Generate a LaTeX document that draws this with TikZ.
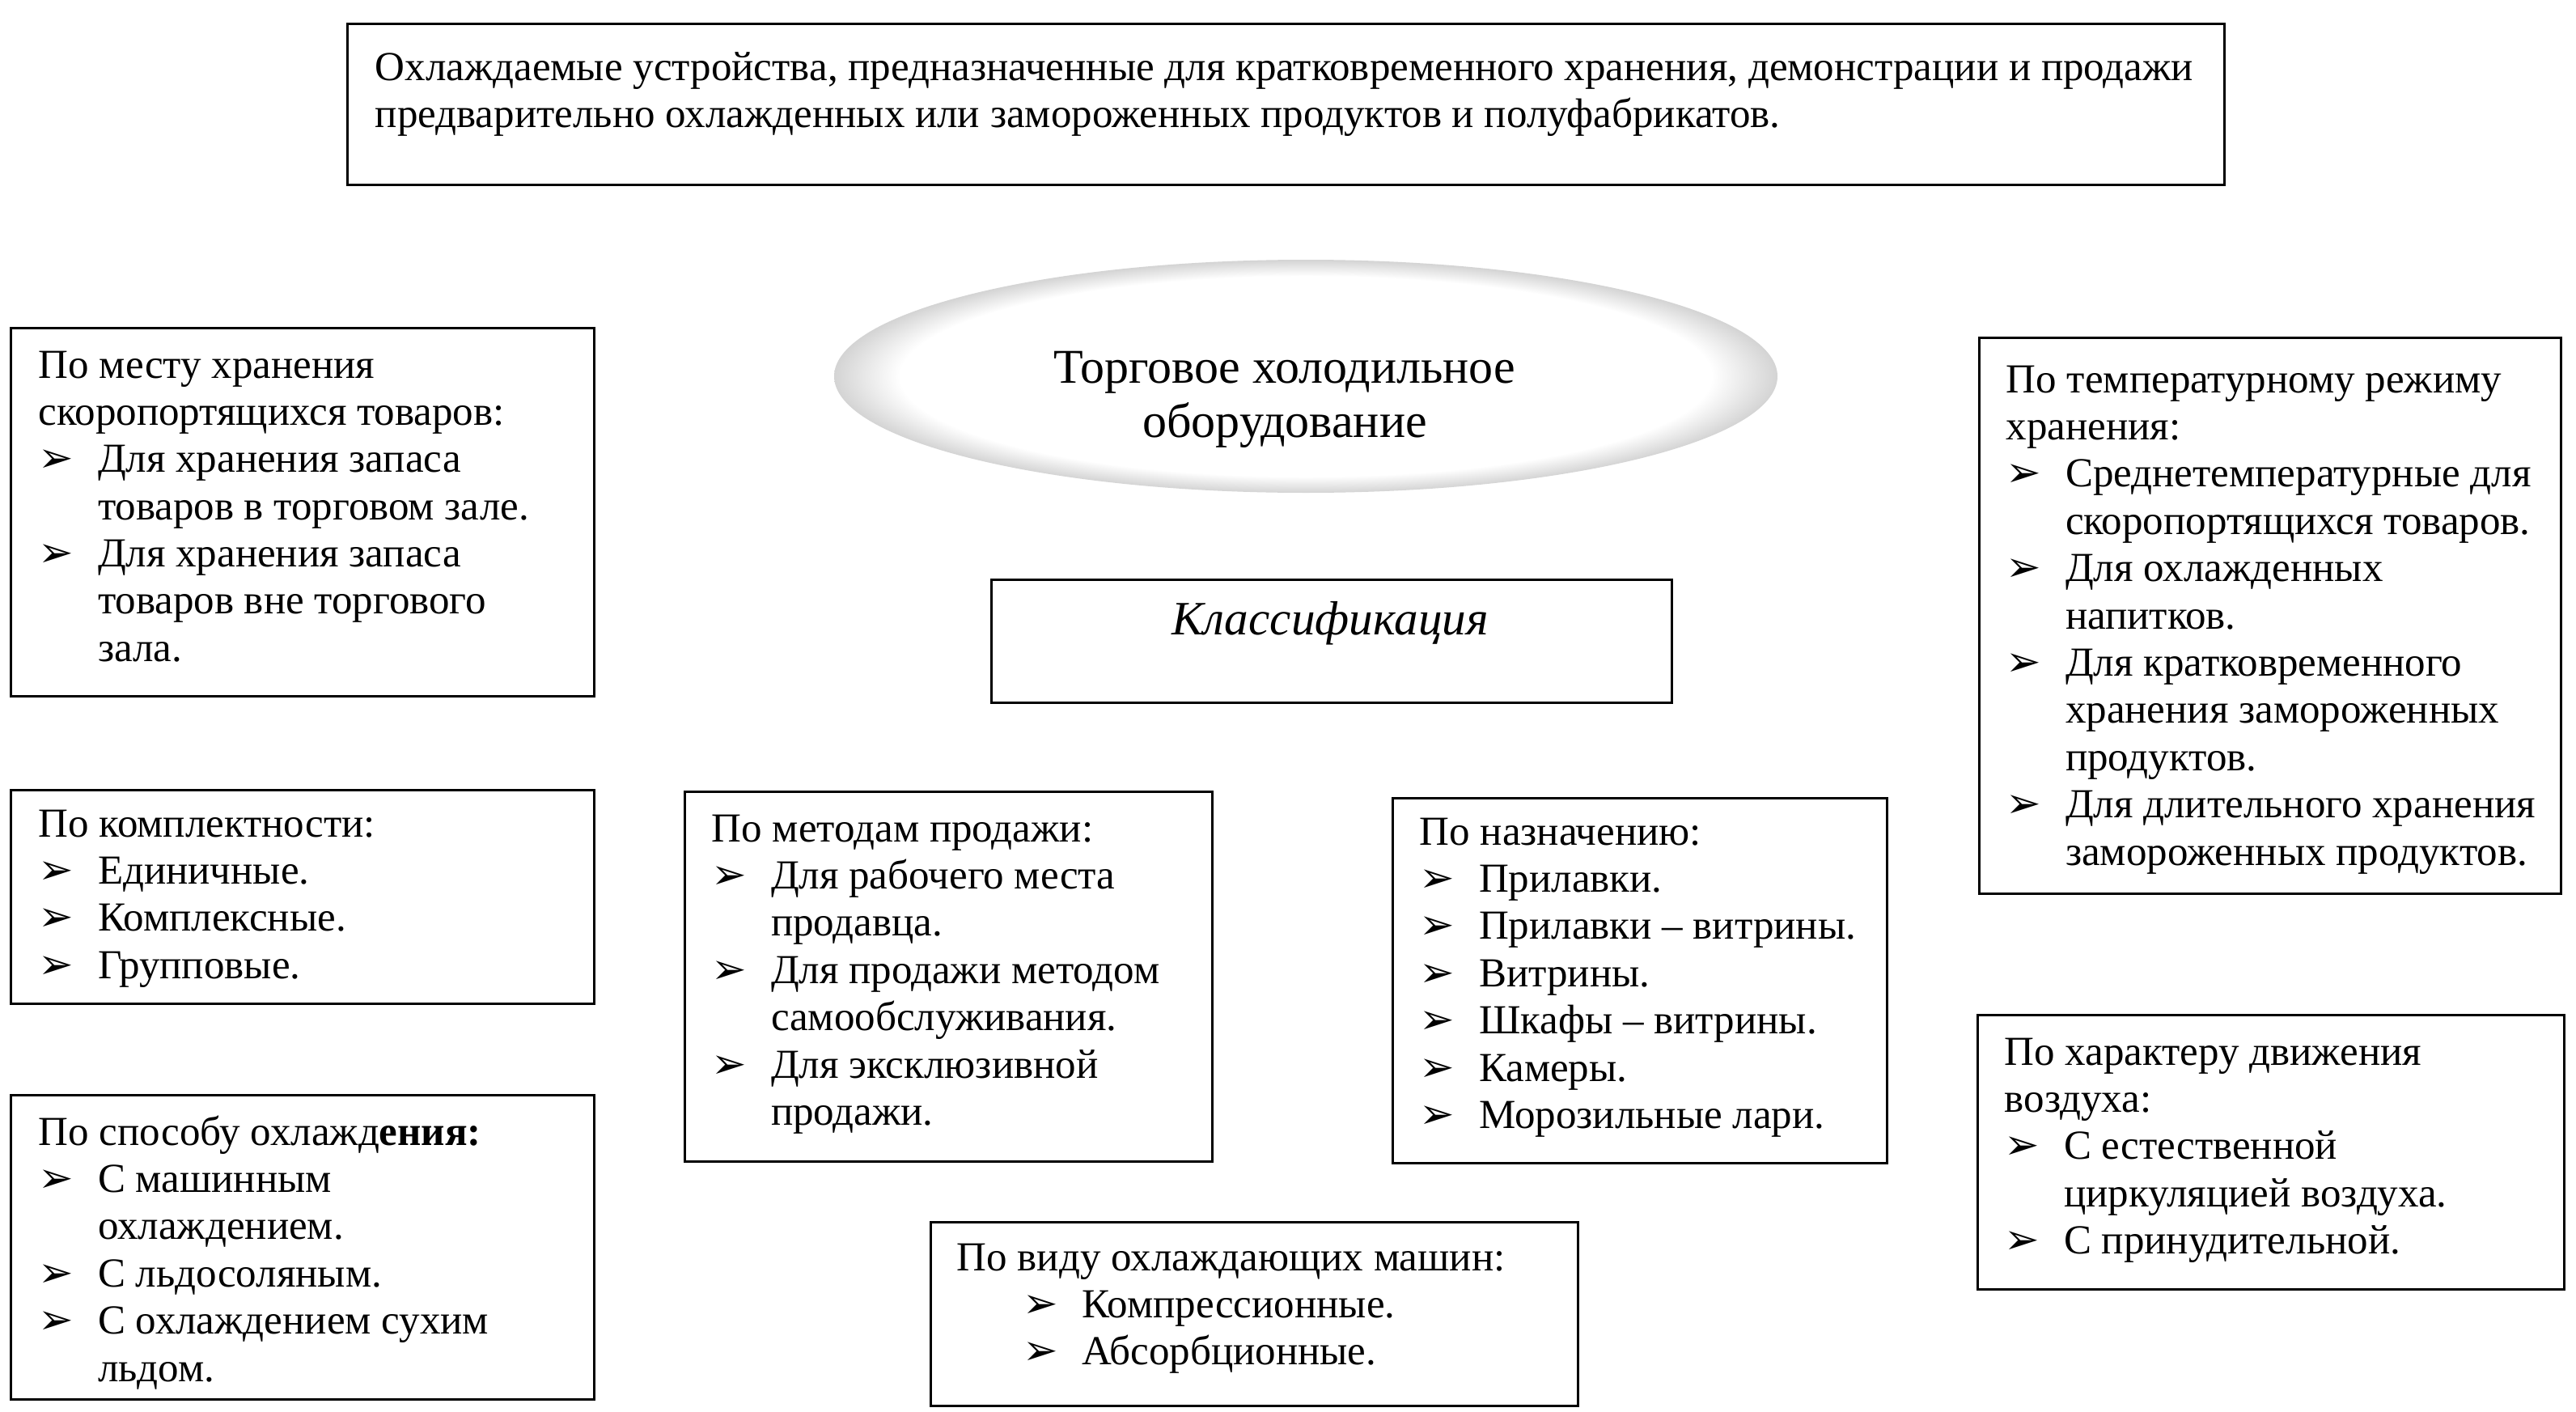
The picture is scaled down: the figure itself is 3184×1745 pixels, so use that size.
\documentclass[tikz,border=0pt]{standalone}
\usepackage{fontspec}
\setmainfont{Liberation Serif}
\newfontfamily\arrowfont{DejaVu Sans}
\usepackage{array}
\usetikzlibrary{calc,shapes.geometric}
\pgfdeclareradialshading{rimshade}{\pgfpoint{0bp}{0bp}}{color(0bp)=(white); color(21.5bp)=(white); color(25bp)=(black!17); color(50bp)=(black!17)}
\newcommand{\bl}{{\arrowfont\fontsize{13}{13}\selectfont ➢}}
\newcommand{\hd}[1]{\multicolumn{2}{@{}l@{}}{#1}}
\newenvironment{blist}{\begin{tabular}[t]{@{}p{18.3pt}@{}l@{}}}{\end{tabular}}
\newenvironment{blistb}{\begin{tabular}[t]{@{\hspace{20.3pt}}p{18.3pt}@{}l@{}}}{\end{tabular}}
\tikzset{
  framebox/.style={draw=black, line width=0.7pt, inner sep=0pt, anchor=north west},
  txt/.style={anchor=base west, inner sep=0pt, font=\fontsize{12.75}{14.6}\selectfont, align=left},
}
\begin{document}
\begin{tikzpicture}[x=0.25pt, y=-0.25pt]
\useasboundingbox (0,0) rectangle (3184,1745);
\fill[white] (0,0) rectangle (3184,1745);

% top box
\node[framebox, minimum width=580pt, minimum height=49.75pt] (top) at (428,28) {};
\node[txt] (toptxt) at (463,99) {\begin{tabular}[t]{@{}l@{}}Охлаждаемые устройства, предназначенные для кратковременного хранения, демонстрации и продажи\\предварительно охлажденных или замороженных продуктов и полуфабрикатов.\end{tabular}};

% ellipse
\node[ellipse, minimum width=291.5pt, minimum height=72pt, inner sep=0pt, shading=rimshade] (ell) at (1614,465) {};
\node[anchor=base, inner sep=0pt, font=\fontsize{15}{17}\selectfont] (ell1) at (1588,473) {Торговое холодильное};
\node[anchor=base, inner sep=0pt, font=\fontsize{15}{17}\selectfont] (ell2) at (1588,540) {оборудование};

% classification
\node[framebox, minimum width=210.25pt, minimum height=38pt] (cls) at (1224,715) {};
\node[anchor=base, inner sep=0pt, font=\fontsize{14.8}{16}\selectfont\itshape] (clstxt) at (1644,784) {Классификация};

% box 1
\node[framebox, minimum width=180.25pt, minimum height=113.75pt] (b1) at (12,404) {};
\node[txt] (t1) at (47,467) {\begin{blist}
\hd{По месту хранения}\\
\hd{скоропортящихся товаров:}\\
\bl & Для хранения запаса\\
 & товаров в торговом зале.\\
\bl & Для хранения запаса\\
 & товаров вне торгового\\
 & зала.
\end{blist}};

% box 2
\node[framebox, minimum width=180.25pt, minimum height=66pt] (b2) at (12,975) {};
\node[txt] (t2) at (47,1034) {\begin{blist}
\hd{По комплектности:}\\
\bl & Единичные.\\
\bl & Комплексные.\\
\bl & Групповые.
\end{blist}};

% box 3
\node[framebox, minimum width=180.25pt, minimum height=94pt] (b3) at (12,1352) {};
\node[txt] (t3) at (47,1415) {\begin{blist}
\hd{По способу охлажд\textbf{ения:}}\\
\bl & С машинным\\
 & охлаждением.\\
\bl & С льдосоляным.\\
\bl & С охлаждением сухим\\
 & льдом.
\end{blist}};

% box methods
\node[framebox, minimum width=163pt, minimum height=114.25pt] (b4) at (845,977) {};
\node[txt] (t4) at (879,1040) {\begin{blist}
\hd{По методам продажи:}\\
\bl & Для рабочего места\\
 & продавца.\\
\bl & Для продажи методом\\
 & самообслуживания.\\
\bl & Для эксклюзивной\\
 & продажи.
\end{blist}};

% box purpose
\node[framebox, minimum width=152.75pt, minimum height=112.75pt] (b5) at (1720,985) {};
\node[txt] (t5) at (1754,1044) {\begin{blist}
\hd{По назначению:}\\
\bl & Прилавки.\\
\bl & Прилавки – витрины.\\
\bl & Витрины.\\
\bl & Шкафы – витрины.\\
\bl & Камеры.\\
\bl & Морозильные лари.
\end{blist}};

% box machines
\node[framebox, minimum width=200pt, minimum height=56.75pt] (b6) at (1149,1509) {};
\node[txt] (t6) at (1182,1570) {\begin{blistb}
\hd{По виду охлаждающих машин:}\\
\bl & Компрессионные.\\
\bl & Абсорбционные.
\end{blistb}};

% right box temperature
\node[framebox, minimum width=179.75pt, minimum height=171.75pt] (b7) at (2445,416) {};
\node[txt] (t7) at (2479,485) {\begin{blist}
\hd{По температурному режиму}\\
\hd{хранения:}\\
\bl & Среднетемпературные для\\
 & скоропортящихся товаров.\\
\bl & Для охлажденных\\
 & напитков.\\
\bl & Для кратковременного\\
 & хранения замороженных\\
 & продуктов.\\
\bl & Для длительного хранения\\
 & замороженных продуктов.
\end{blist}};

% right box air
\node[framebox, minimum width=181.25pt, minimum height=84.75pt] (b8) at (2443,1253) {};
\node[txt] (t8) at (2477,1316) {\begin{blist}
\hd{По характеру движения}\\
\hd{воздуха:}\\
\bl & С естественной\\
 & циркуляцией воздуха.\\
\bl & С принудительной.
\end{blist}};
\end{tikzpicture}
\end{document}
